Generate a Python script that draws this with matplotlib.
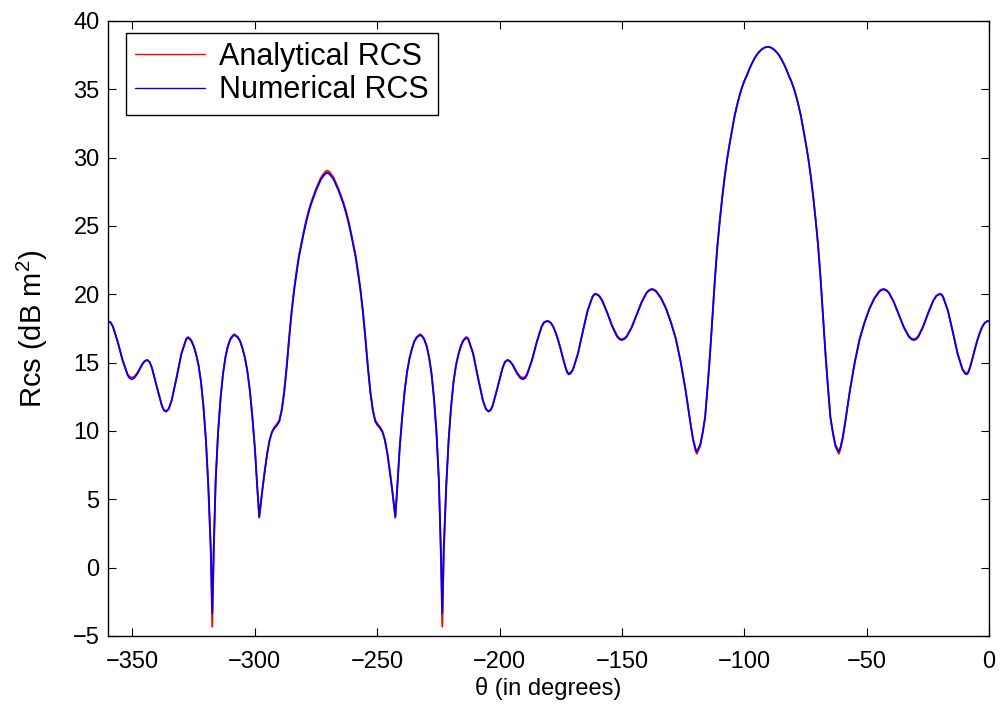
import matplotlib
matplotlib.use("Agg")
import matplotlib.pyplot as plt

# ---------------- data ----------------
theta = [
    -360, -359, -358, -356, -354, -352, -351.2, -350.3, -349.3, -348,
    -346, -345, -344, -343, -342, -340, -338, -337.2, -336.3, -335.2,
    -334, -332, -330, -328, -327.2, -326, -325, -324, -323, -322,
    -321, -320, -319, -318, -317.4, -316.8, -316, -315, -314, -313,
    -312, -311, -310, -309, -308.4, -307, -306, -305, -304, -303,
    -302, -301, -300, -299, -298.2, -297, -296, -295, -294, -293,
    -292, -291, -290, -289, -288, -287, -286, -285, -284, -283,
    -282, -281, -280, -279, -278, -277, -276, -275, -274, -273,
    -272, -271, -270.4, -269.8, -268.8, -267.8, -266.8, -265.8, -264.8, -263.8,
    -262.8, -261.8, -260.8, -259.8, -258.8, -257.8, -256.8, -255.8, -254.8, -253.8,
    -252.8, -251.8, -250.8, -249.8, -248.8, -247.8, -246.8, -245.8, -244.8, -243.8,
    -242.6, -241.8, -240.8, -239.8, -238.8, -237.8, -236.8, -235.8, -234.8, -233.8,
    -232.4, -231.8, -230.8, -229.8, -228.8, -227.8, -226.8, -225.8, -224.8, -224.0,
    -223.4, -222.8, -221.8, -220.8, -219.8, -218.8, -217.8, -216.8, -215.8, -214.8,
    -213.6, -212.8, -210.8, -208.8, -206.8, -205.6, -204.5, -203.6, -202.8, -200.8,
    -198.8, -197.8, -196.8, -195.8, -194.8, -192.8, -191.5, -190.5, -189.5, -188.8,
    -186.8, -184.8, -182.8, -181.8, -180.8, -180.0, -179, -178, -177, -176,
    -175, -174, -173, -172.3, -171.7, -171, -170, -168, -166, -164,
    -162, -161.3, -160.7, -159.3, -158, -156, -154, -152, -151, -150.1,
    -149, -148, -146, -144, -142, -140, -139, -137.8, -137, -136,
    -134, -132, -130, -128, -126, -124, -122, -121, -120, -119.4,
    -118, -117, -116, -115, -114, -113, -112, -111, -110, -109,
    -108, -107, -106, -105, -104, -103, -102, -101, -100, -99,
    -98, -97, -96, -95, -94, -93, -92, -91, -90.4, -89.8,
    -88.8, -87.8, -86.8, -85.8, -84.8, -83.8, -82.8, -81.8, -80.8, -79.8,
    -78.8, -77.8, -76.8, -75.8, -74.8, -73.8, -72.8, -71.8, -70.8, -69.8,
    -68.8, -67.8, -66.8, -65.8, -64.8, -63.8, -62.8, -61.4, -60.8, -59.8,
    -58.8, -56.8, -54.8, -52.8, -50.8, -48.8, -46.8, -44.8, -43.8, -43.0,
    -41.8, -40.8, -38.8, -36.8, -34.8, -32.8, -31.8, -30.7, -29.8, -28.8,
    -26.8, -24.8, -22.8, -21.5, -20.1, -19.5, -18.8, -16.8, -14.8, -12.8,
    -10.8, -9.8, -9.1, -8.5, -7.8, -6.8, -5.8, -4.8, -3.8, -2.8,
    -1.8, -0.8, 0,
]

analytical_rcs = [
    18.03, 17.96, 17.66, 16.52, 15.18, 14.17, 13.97, 13.9, 13.97, 14.26,
    14.9, 15.12, 15.2, 15.06, 14.6, 13.2, 11.88, 11.56, 11.45, 11.63,
    12.25, 13.9, 15.68, 16.78, 16.88, 16.66, 16.25, 15.64, 14.82, 13.6,
    11.75, 9.3, 5.8, 1.0, -4.32, 1.0, 6.3, 9.9, 12.4, 14.2,
    15.42, 16.25, 16.75, 17.0, 17.08, 16.9, 16.6, 16.05, 15.33, 14.32,
    12.9, 11.0, 8.75, 5.8, 3.65, 5.55, 7.0, 8.3, 9.32, 9.95,
    10.28, 10.5, 10.8, 11.6, 12.95, 14.75, 16.85, 18.75, 20.35, 21.65,
    22.85, 23.75, 24.62, 25.42, 26.12, 26.72, 27.22, 27.72, 28.13, 28.54,
    28.8, 29.0, 29.05, 29.0, 28.8, 28.54, 28.13, 27.72, 27.22, 26.72,
    26.12, 25.42, 24.62, 23.75, 22.85, 21.65, 20.35, 18.75, 16.85, 14.75,
    12.95, 11.6, 10.8, 10.5, 10.28, 9.95, 9.32, 8.3, 7.0, 5.55,
    3.65, 5.8, 8.75, 11.0, 12.9, 14.32, 15.33, 16.05, 16.6, 16.9,
    17.08, 17.0, 16.75, 16.25, 15.42, 14.2, 12.4, 9.9, 6.3, 1.0,
    -4.32, 1.0, 5.8, 9.3, 11.75, 13.6, 14.82, 15.64, 16.25, 16.66,
    16.88, 16.78, 15.68, 13.9, 12.25, 11.63, 11.45, 11.56, 11.88, 13.2,
    14.6, 15.06, 15.2, 15.12, 14.9, 14.26, 13.97, 13.9, 13.97, 14.17,
    15.18, 16.52, 17.66, 17.96, 18.03, 18.03, 17.9, 17.62, 17.18, 16.63,
    15.99, 15.3, 14.66, 14.32, 14.22, 14.27, 14.52, 15.65, 17.27, 18.83,
    19.85, 20.01, 20.05, 19.91, 19.55, 18.68, 17.72, 16.98, 16.78, 16.72,
    16.78, 16.96, 17.6, 18.5, 19.41, 20.1, 20.3, 20.4, 20.36, 20.25,
    19.75, 19.0, 18.0, 16.8, 15.1, 13.0, 10.55, 9.4, 8.6, 8.33,
    8.9, 9.85, 11.0, 13.2, 15.62, 18.32, 21.1, 23.5, 25.4, 27.1,
    28.6, 29.9, 31.0, 32.0, 33.0, 33.8, 34.5, 35.1, 35.6, 36.0,
    36.45, 36.85, 37.2, 37.5, 37.72, 37.9, 38.03, 38.09, 38.11, 38.09,
    38.03, 37.9, 37.72, 37.5, 37.2, 36.85, 36.45, 36.0, 35.6, 35.1,
    34.5, 33.8, 33.0, 32.0, 31.0, 29.9, 28.6, 27.1, 25.4, 23.5,
    21.1, 18.32, 15.62, 13.2, 11.0, 9.85, 8.9, 8.33, 8.6, 9.4,
    10.55, 13.0, 15.1, 16.8, 18.0, 19.0, 19.75, 20.25, 20.36, 20.4,
    20.3, 20.1, 19.41, 18.5, 17.6, 16.96, 16.78, 16.72, 16.78, 16.98,
    17.72, 18.68, 19.55, 19.91, 20.05, 20.01, 19.85, 18.83, 17.27, 15.65,
    14.52, 14.27, 14.22, 14.32, 14.66, 15.3, 15.99, 16.63, 17.18, 17.62,
    17.9, 18.03, 18.03,
]

numerical_rcs = [
    18.03, 17.95, 17.64, 16.49, 15.13, 14.09, 13.87, 13.78, 13.87, 14.19,
    14.87, 15.1, 15.19, 15.04, 14.59, 13.19, 11.85, 11.53, 11.41, 11.6,
    12.22, 13.88, 15.65, 16.72, 16.82, 16.6, 16.2, 15.6, 14.8, 13.6,
    11.8, 9.4, 6.0, 1.5, -3.34, 1.5, 6.5, 10.0, 12.4, 14.2,
    15.4, 16.2, 16.7, 16.95, 17.02, 16.85, 16.55, 16.0, 15.3, 14.3,
    12.9, 11.0, 8.8, 5.9, 3.73, 5.6, 7.0, 8.3, 9.3, 9.9,
    10.2, 10.4, 10.7, 11.5, 12.8, 14.6, 16.7, 18.6, 20.2, 21.5,
    22.7, 23.6, 24.5, 25.3, 26.0, 26.6, 27.1, 27.6, 28.0, 28.4,
    28.65, 28.85, 28.9, 28.85, 28.65, 28.4, 28.0, 27.6, 27.1, 26.6,
    26.0, 25.3, 24.5, 23.6, 22.7, 21.5, 20.2, 18.6, 16.7, 14.6,
    12.8, 11.5, 10.7, 10.4, 10.2, 9.9, 9.3, 8.3, 7.0, 5.6,
    3.73, 5.9, 8.8, 11.0, 12.9, 14.3, 15.3, 16.0, 16.55, 16.85,
    17.02, 16.95, 16.7, 16.2, 15.4, 14.2, 12.4, 10.0, 6.5, 1.5,
    -3.34, 1.5, 6.0, 9.4, 11.8, 13.6, 14.8, 15.6, 16.2, 16.6,
    16.82, 16.72, 15.65, 13.88, 12.22, 11.6, 11.41, 11.53, 11.85, 13.19,
    14.59, 15.04, 15.19, 15.1, 14.87, 14.19, 13.87, 13.78, 13.87, 14.09,
    15.13, 16.49, 17.64, 17.95, 18.03, 18.03, 17.9, 17.6, 17.15, 16.6,
    15.95, 15.25, 14.6, 14.25, 14.14, 14.2, 14.48, 15.63, 17.25, 18.81,
    19.82, 19.98, 20.02, 19.88, 19.51, 18.64, 17.66, 16.91, 16.71, 16.65,
    16.72, 16.91, 17.58, 18.48, 19.39, 20.08, 20.27, 20.36, 20.32, 20.2,
    19.7, 18.95, 17.95, 16.75, 15.05, 13.0, 10.6, 9.5, 8.75, 8.48,
    9.0, 9.9, 11.0, 13.2, 15.6, 18.3, 21.1, 23.5, 25.4, 27.1,
    28.6, 29.9, 31.0, 32.0, 33.0, 33.8, 34.5, 35.1, 35.6, 36.0,
    36.45, 36.85, 37.2, 37.5, 37.72, 37.9, 38.03, 38.09, 38.11, 38.09,
    38.03, 37.9, 37.72, 37.5, 37.2, 36.85, 36.45, 36.0, 35.6, 35.1,
    34.5, 33.8, 33.0, 32.0, 31.0, 29.9, 28.6, 27.1, 25.4, 23.5,
    21.1, 18.3, 15.6, 13.2, 11.0, 9.9, 9.0, 8.48, 8.75, 9.5,
    10.6, 13.0, 15.05, 16.75, 17.95, 18.95, 19.7, 20.2, 20.32, 20.36,
    20.27, 20.08, 19.39, 18.48, 17.58, 16.91, 16.72, 16.65, 16.71, 16.91,
    17.66, 18.64, 19.51, 19.88, 20.02, 19.98, 19.82, 18.81, 17.25, 15.63,
    14.48, 14.2, 14.14, 14.25, 14.6, 15.25, 15.95, 16.6, 17.15, 17.6,
    17.9, 18.03, 18.03,
]

x_ticks = [-350, -300, -250, -200, -150, -100, -50, 0]
y_ticks = [-5, 0, 5, 10, 15, 20, 25, 30, 35, 40]
series_labels = ["Analytical RCS", "Numerical RCS"]
x_label = "θ (in degrees)"
y_label = "Rcs (dB m$^{\\mathregular{2}}$)"

# ---------------- style ----------------
plt.rcParams['font.family'] = ['Liberation Sans', 'DejaVu Sans']
plt.rcParams['mathtext.fontset'] = 'custom'
plt.rcParams['mathtext.rm'] = 'Liberation Sans'
plt.rcParams['mathtext.it'] = 'Liberation Sans:italic'
plt.rcParams['axes.unicode_minus'] = True

fig = plt.figure(figsize=(10.01, 7.11), dpi=100)
ax = fig.add_axes([0.1079, 0.1055, 0.8801, 0.865])

ax.plot(theta, analytical_rcs, color='#ff0000', lw=1.3, label=series_labels[0],
        solid_joinstyle='round', solid_capstyle='round')
ax.plot(theta, numerical_rcs, color='#0000ff', lw=1.3, label=series_labels[1],
        solid_joinstyle='round', solid_capstyle='round')

ax.set_xlim(-360, 0)
ax.set_ylim(-5, 40)
ax.set_xticks(x_ticks)
ax.set_yticks(y_ticks)
ax.tick_params(direction='in', length=6, width=0.8, top=True, right=True,
               labelsize=17, colors='black')
ax.tick_params(axis='x', pad=11)
ax.tick_params(axis='y', pad=6)
for sp in ax.spines.values():
    sp.set_linewidth(1.0)
    sp.set_color('black')

ax.set_xlabel(x_label, fontsize=17)
ax.xaxis.set_label_coords(0.5, -0.066)
ax.set_ylabel(y_label, fontsize=21)
ax.yaxis.set_label_coords(-0.066, 0.5)

leg = ax.legend(loc='upper left', bbox_to_anchor=(0.0204, 0.981), borderaxespad=0,
                fontsize=22, fancybox=False, edgecolor='black', framealpha=1,
                handlelength=2.3, handletextpad=0.45, labelspacing=0.12, borderpad=0.3)
leg.get_frame().set_linewidth(1.0)
for line in leg.get_lines():
    line.set_linewidth(1.0)

fig.savefig("out.png", dpi=100)
